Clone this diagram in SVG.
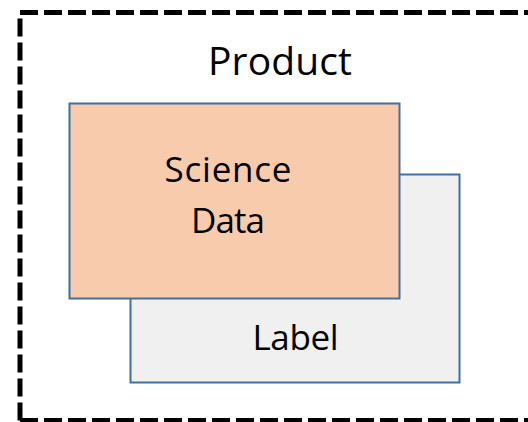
<svg xmlns="http://www.w3.org/2000/svg" width="528" height="422" viewBox="0 0 528 422">
  <style>
    .frame { fill: none; stroke: #000000; stroke-width: 5; stroke-dasharray: 18 6; }
    .box { stroke: #41719C; stroke-width: 2; }
    .txt { font-family: "Open Sans", "Liberation Sans", sans-serif; fill: #000000; text-anchor: middle; }
  </style>
  <rect width="528" height="422" fill="#ffffff"/>

  <!-- product container (dashed) -->
  <g id="product">
    <path class="frame" d="M20,420.5 V12.5 H560"/>
    <path class="frame" d="M20,420.5 H560"/>
    <text class="txt" x="280" y="75" font-size="39" textLength="144">Product</text>
  </g>

  <!-- label (behind) -->
  <g id="label">
    <rect class="box" x="130.5" y="174.5" width="329" height="208" fill="#F0F0F0"/>
    <text class="txt" x="295.5" y="350" font-size="35" textLength="86">Label</text>
  </g>

  <!-- science data (front) -->
  <g id="science-data">
    <rect class="box" x="69.5" y="103.5" width="330" height="195" fill="#F8CBAD"/>
    <text class="txt" x="228" y="181.5" font-size="35" textLength="127">Science</text>
    <text class="txt" x="228" y="232.5" font-size="35" textLength="74">Data</text>
  </g>
</svg>
